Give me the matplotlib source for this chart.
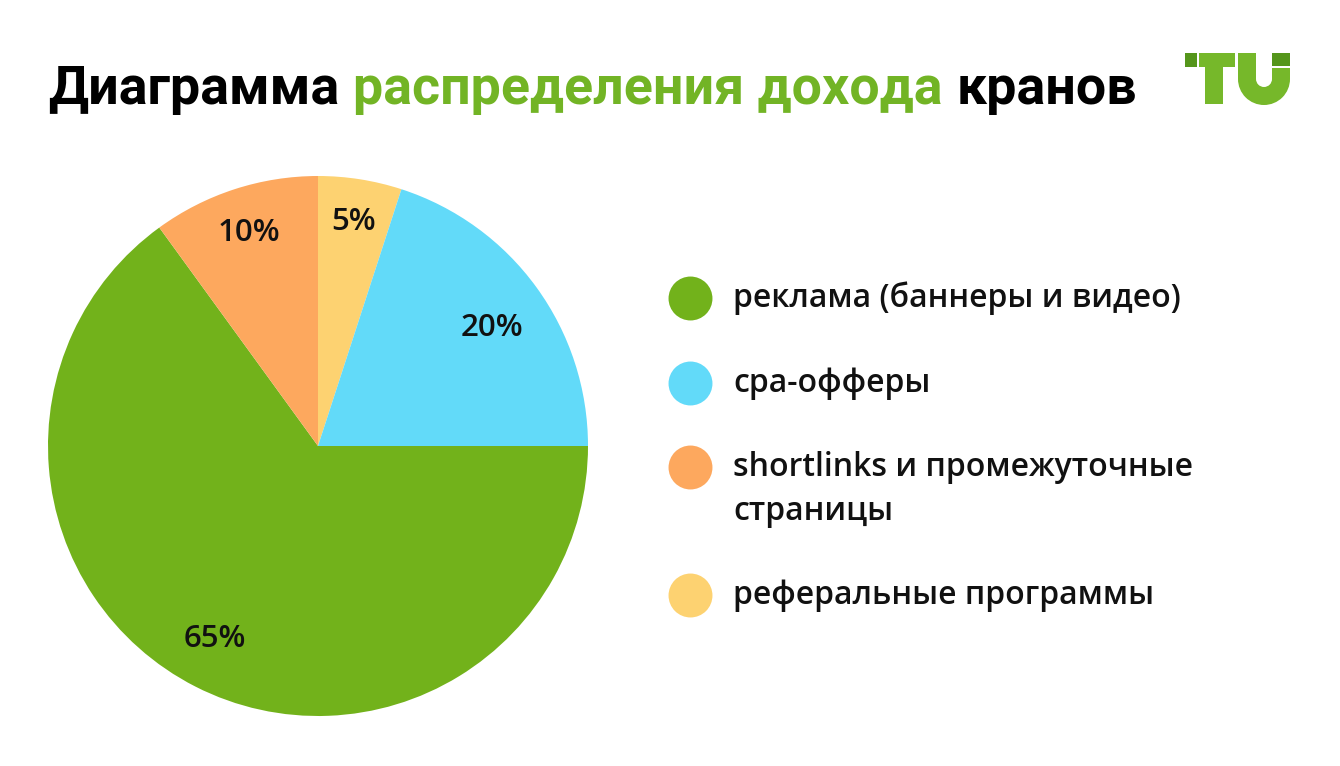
import matplotlib
matplotlib.use("Agg")
import numpy as np
import matplotlib.pyplot as plt
from matplotlib.patches import Rectangle, Wedge

# data, in legend order
labels = ["реклама (баннеры и видео)", "cpa-офферы",
          "shortlinks и промежуточные\nстраницы", "реферальные программы"]
shares = [65, 20, 10, 5]
colors = ["#72b21b", "#62daf9", "#fda85e", "#fdd271"]
# the pie runs clockwise from 3 o'clock: green, orange, yellow, blue
pie_order = [0, 2, 3, 1]

title_parts = [("Диаграмма", "#000000"), ("распределения дохода", "#72b425"), ("кранов", "#000000")]

# label placement tweaks (radius fraction, angle shift in degrees), pie order
label_dist = [0.81, 0.83, 0.84, 0.78]
label_shift = [-1.2, 0, 0, -1.8]

W, H = 1340, 766
fig = plt.figure(figsize=(W / 100, H / 100), dpi=100)
fig.patch.set_facecolor("white")

# pie: centre (318, 446) px, radius 270 px
cx, cy, r = 318, 446, 270
ax = fig.add_axes([(cx - r) / W, (H - cy - r) / H, 2 * r / W, 2 * r / H])
wedges, texts, autotexts = ax.pie(
    [shares[i] for i in pie_order],
    colors=[colors[i] for i in pie_order],
    startangle=0, counterclock=False, radius=1,
    autopct="%d%%", pctdistance=0.81,
    textprops=dict(fontfamily="Open Sans", fontweight=600, fontsize=22.5, color="#111111"),
    wedgeprops=dict(linewidth=0),
)
for w, t, d, s in zip(wedges, autotexts, label_dist, label_shift):
    a = np.deg2rad((w.theta1 + w.theta2) / 2 + s)
    t.set_position((d * np.cos(a), d * np.sin(a)))
ax.set_xlim(-1, 1)
ax.set_ylim(-1, 1)
ax.set_aspect("equal")
ax.axis("off")

# overlay in pixel coordinates for title, legend and logo
ov = fig.add_axes([0, 0, 1, 1], facecolor="none")
ov.set_xlim(0, W)
ov.set_ylim(H, 0)
ov.axis("off")

renderer = fig.canvas.get_renderer()
x = 48
for word, col in title_parts:
    t = ov.text(x, 104, word, fontfamily="Roboto", fontweight="bold", fontsize=38.7,
                color=col, va="baseline", ha="left")
    bb = t.get_window_extent(renderer)
    x = bb.x1 + 14

# legend
leg_y = [298, 383, 467, 595]
for i, lab in enumerate(labels):
    ov.scatter([690], [leg_y[i]], s=1000, color=colors[i], linewidths=0)
    for j, line in enumerate(lab.split("\n")):
        ov.text(733, leg_y[i] + 45 * j, line, fontfamily="Open Sans", fontweight=600,
                fontsize=23, color="#111111", va="center", ha="left")

# logo "TU"
light, dark = "#76b82a", "#55961b"
ov.add_patch(Rectangle((1185, 53), 12, 14, color=dark, lw=0))
ov.add_patch(Rectangle((1199, 53), 36, 14, color=light, lw=0))
ov.add_patch(Rectangle((1205, 53), 18, 51, color=light, lw=0))
ov.add_patch(Rectangle((1238, 53), 18, 26, color=light, lw=0))
ov.add_patch(Rectangle((1272, 53), 18, 13, color=dark, lw=0))
ov.add_patch(Rectangle((1272, 68), 18, 11, color=light, lw=0))
ov.add_patch(Wedge((1264, 79), 26, 0, 180, width=18, color=light, lw=0))

fig.savefig("out.png", dpi=100, facecolor="white")
